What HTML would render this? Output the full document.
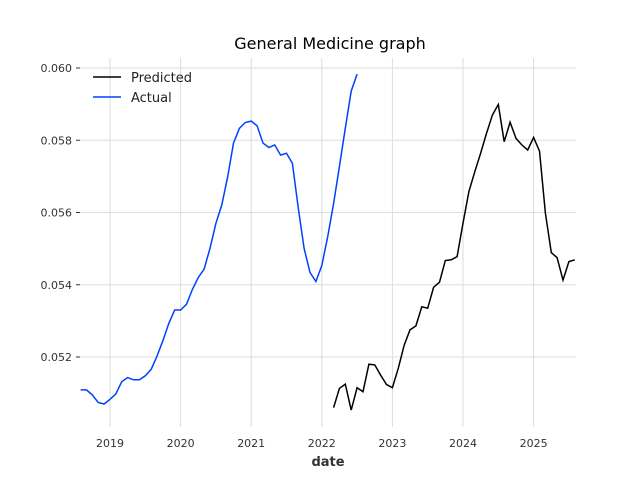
<!DOCTYPE html>
<html><head><meta charset="utf-8"><style>
body{margin:0;background:#fff;font-family:"Liberation Sans","DejaVu Sans",sans-serif}
</style></head><body>
<svg id="chart" width="640" height="480" xmlns="http://www.w3.org/2000/svg" font-family="DejaVu Sans, Liberation Sans, sans-serif">
<g id="grid"></g>
<g id="axes"></g>
<g id="series"></g>
<text x="330" y="49" text-anchor="middle" font-size="16" fill="#000">General Medicine graph</text>
<text x="328" y="466" text-anchor="middle" font-size="13" font-weight="bold" fill="#333">date</text>
<g>
<line x1="93" y1="77" x2="121" y2="77" stroke="#000" stroke-width="1.6"/>
<text x="131" y="82" font-size="13" fill="#222">Predicted</text>
<line x1="93" y1="97" x2="121" y2="97" stroke="#0040ff" stroke-width="1.6"/>
<text x="131" y="102" font-size="13" fill="#222">Actual</text>
</g>
</svg>
<script>
const actualStart=[2018,8];
const actualValues=[0.05109,0.05109,0.05095,0.05074,0.05070,0.05083,0.05098,0.05132,0.05143,0.05137,0.05137,0.05148,0.05166,0.05203,0.05245,0.05293,0.05330,0.05330,0.05346,0.05387,0.05420,0.05443,0.05501,0.05570,0.05621,0.05699,0.05792,0.05833,0.05849,0.05853,0.05840,0.05792,0.05780,0.05787,0.05759,0.05764,0.05736,0.05612,0.05501,0.05434,0.05409,0.05453,0.05533,0.05625,0.05727,0.05833,0.05936,0.05983];
const predStart=[2022,3];
const predValues=[0.05060,0.05113,0.05125,0.05053,0.05115,0.05104,0.05180,0.05178,0.05150,0.05124,0.05115,0.05169,0.05233,0.05275,0.05286,0.05339,0.05335,0.05393,0.05407,0.05467,0.05469,0.05478,0.05570,0.05658,0.05713,0.05764,0.05819,0.05870,0.05899,0.05796,0.05850,0.05805,0.05787,0.05773,0.05808,0.05770,0.05598,0.05489,0.05475,0.05413,0.05464,0.05469];
const yTicks=[0.052,0.054,0.056,0.058,0.060];
const yTickLabels=["0.052","0.054","0.056","0.058","0.060"];
const xTicks=[2019,2020,2021,2022,2023,2024,2025];
const xTickLabels=["2019","2020","2021","2022","2023","2024","2025"];
const L=80,R=576,T=58,B=427;
const X=t=>110+(t-2019)*70.6;
const Y=v=>68+(0.060-v)/0.002*72.25;
const NS="http://www.w3.org/2000/svg";
function mk(tag,attrs,parent){const e=document.createElementNS(NS,tag);for(const k in attrs)e.setAttribute(k,attrs[k]);document.getElementById(parent).appendChild(e);return e;}
yTicks.forEach((v,i)=>{
 const g=mk('line',{x1:L,x2:R,y1:Y(v),y2:Y(v),stroke:'#dddddd','stroke-width':1},'grid');
 
 
 const tk=mk('line',{x1:L-4,x2:L,y1:Y(v),y2:Y(v),stroke:'#333','stroke-width':1},'axes');
 
 
 const t=mk('text',{x:L-8,y:Y(v)+4,'text-anchor':'end','font-size':'11',fill:'#333'},'axes');
 t.textContent=yTickLabels[i];
 
 
});
xTicks.forEach((v,i)=>{
 const g=mk('line',{x1:X(v),x2:X(v),y1:T,y2:B,stroke:'#dddddd','stroke-width':1},'grid');
 
 
 const t=mk('text',{x:X(v),y:447,'text-anchor':'middle','font-size':'11',fill:'#333'},'axes');
 t.textContent=xTickLabels[i];
 
 
});
function pts(start,vals){return vals.map((v,i)=>{const t=start[0]+(start[1]-1+i)/12;return X(t).toFixed(1)+','+Y(v).toFixed(1);}).join(' ');}
const a=mk('polyline',{points:pts(actualStart,actualValues),fill:'none',stroke:'#0040ff','stroke-width':1.5},'series');


const p=mk('polyline',{points:pts(predStart,predValues),fill:'none',stroke:'#000','stroke-width':1.5},'series');


</script>
</body></html>
